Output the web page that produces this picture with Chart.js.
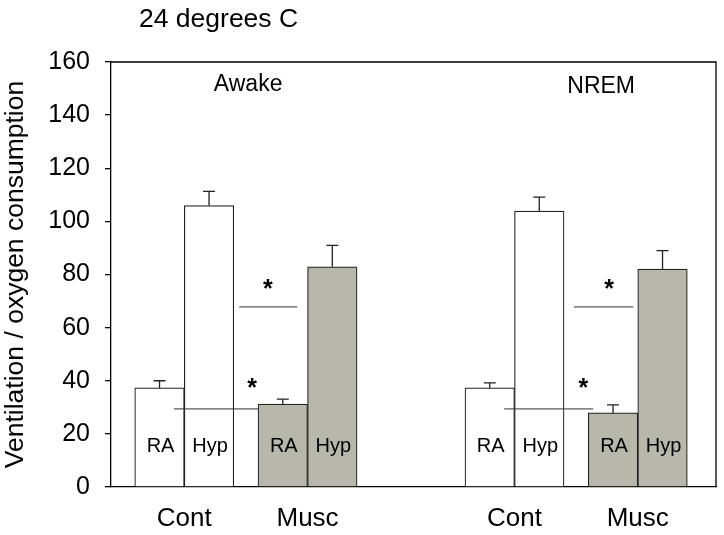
<!DOCTYPE html>
<html>
<head>
<meta charset="utf-8">
<script src="https://cdn.jsdelivr.net/npm/chart.js@4/dist/chart.umd.min.js"></script>
<style>
  html, body { margin: 0; padding: 0; background: #fff; }
  #wrap { width: 724px; height: 535px; }
</style>
</head>
<body>
<div id="wrap"><canvas id="mycanvas" width="724" height="535"></canvas></div>
<script>
var chartTitle = '24 degrees C';
var yTitle = 'Ventilation / oxygen consumption';
var states = ['Awake', 'NREM'];
var treatments = ['Cont', 'Musc'];
var gases = ['RA', 'Hyp'];
// order: Awake Cont, Awake Musc, NREM Cont, NREM Musc
var raMean = [37.3, 31.2, 37.3, 27.9];
var raSem = [2.7, 1.9, 1.9, 3.0];
var hypMean = [105.9, 82.9, 103.9, 82.0];
var hypSem = [5.4, 8.1, 5.2, 7.0];
var yTicks = [0, 20, 40, 60, 80, 100, 120, 140, 160];

var FONT = '"Liberation Sans", Arial, Helvetica, sans-serif';
var fills = ['#ffffff', '#b7b7ab'];

// layout on the x axis, in bar widths
var firstPair = 1.48, treatStep = 2.49, stateStep = 6.67, xMax = 12.22;
function pairX(i) {
  return firstPair + Math.floor(i / 2) * stateStep + (i % 2) * treatStep;
}

function makeSet(label, means, offset) {
  return {
    label: label,
    data: means.map(function (v, i) { return { x: pairX(i) + offset, y: v }; }),
    backgroundColor: means.map(function (v, i) { return fills[i % 2]; }),
    borderColor: '#222',
    borderWidth: 1.2,
    grouped: false,
    barPercentage: 1,
    categoryPercentage: 1
  };
}

var sems = [raSem, hypSem];

var annot = {
  id: 'annot',
  afterDatasetsDraw: function (chart) {
    var c = chart.ctx, ys = chart.scales.y, xs = chart.scales.x, a = chart.chartArea;
    c.save();
    // frame top and right
    c.strokeStyle = '#000';
    c.lineWidth = 1.3;
    c.beginPath();
    c.moveTo(a.left, a.top); c.lineTo(a.right, a.top); c.lineTo(a.right, a.bottom);
    c.stroke();

    // error bars and in-bar labels
    chart.data.datasets.forEach(function (ds, d) {
      var meta = chart.getDatasetMeta(d);
      meta.data.forEach(function (el, i) {
        var top = ys.getPixelForValue(ds.data[i].y + sems[d][i]);
        c.strokeStyle = '#222';
        c.lineWidth = 1.3;
        c.beginPath();
        c.moveTo(el.x, el.y); c.lineTo(el.x, top);
        c.moveTo(el.x - 6, top); c.lineTo(el.x + 6, top);
        c.stroke();
        c.fillStyle = '#000';
        c.font = '20px ' + FONT;
        c.textAlign = 'center';
        c.textBaseline = 'alphabetic';
        c.fillText(gases[d], el.x + 1, ys.bottom - 35);
      });
    });

    // state labels
    var stateOffset = [1.29, 1.75];
    c.font = '23px ' + FONT;
    c.textAlign = 'center';
    states.forEach(function (s, g) {
      c.fillText(s, xs.getPixelForValue(pairX(g * 2) + stateOffset[g]), 91 + g * 2);
    });

    // significance marks
    var sig = [
      { upper: [1.11, 2.28], upStar: 1.69, lower: [-0.21, 1.49], lowStar: 1.37 },
      { upper: [1.20, 2.40], upStar: 1.91, lower: [-0.21, 1.59], lowStar: 1.39 }
    ];
    sig.forEach(function (s, g) {
      var base = pairX(g * 2);
      c.strokeStyle = '#333';
      c.lineWidth = 1;
      c.beginPath();
      var yu = ys.getPixelForValue(67.8), yl = ys.getPixelForValue(29.4);
      c.moveTo(xs.getPixelForValue(base + s.upper[0]), yu);
      c.lineTo(xs.getPixelForValue(base + s.upper[1]), yu);
      c.moveTo(xs.getPixelForValue(base + s.lower[0]), yl);
      c.lineTo(xs.getPixelForValue(base + s.lower[1]), yl);
      c.stroke();
      c.font = 'bold 25px ' + FONT;
      c.textBaseline = 'middle';
      c.fillText('*', xs.getPixelForValue(base + s.upStar), ys.getPixelForValue(75.7) + 4);
      c.fillText('*', xs.getPixelForValue(base + s.lowStar), ys.getPixelForValue(38.2) + 4);
    });

    // title
    c.font = '26.5px ' + FONT;
    c.textAlign = 'left';
    c.textBaseline = 'alphabetic';
    c.fillText(chartTitle, 139, 27);
    c.restore();
  }
};

var ctx = document.getElementById('mycanvas');
var barGraph = new Chart(ctx, {
  type: 'bar',
  data: { datasets: [makeSet(gases[0], raMean, -0.5), makeSet(gases[1], hypMean, 0.5)] },
  options: {
    responsive: false,
    animation: false,
    layout: { padding: { top: 62, right: 8, left: 0, bottom: 0 } },
    plugins: { legend: { display: false }, tooltip: { enabled: false } },
    scales: {
      x: {
        type: 'linear',
        min: 0,
        max: xMax,
        offset: false,
        grid: { display: false, drawTicks: false },
        border: { display: true, color: '#000', width: 1.3 },
        afterBuildTicks: function (s) {
          s.ticks = [0, 1, 2, 3].map(function (i) { return { value: pairX(i) }; });
        },
        ticks: {
          color: '#000',
          font: { family: FONT, size: 26 },
          padding: 16,
          maxRotation: 0,
          autoSkip: false,
          callback: function (v, idx) { return treatments[idx % 2]; }
        },
        afterFit: function (s) { s.height = 48; }
      },
      y: {
        min: 0,
        max: 160,
        afterBuildTicks: function (s) {
          s.ticks = yTicks.map(function (v) { return { value: v }; });
        },
        grid: { drawOnChartArea: false, drawTicks: true, tickLength: 6, color: '#000', lineWidth: 1.3 },
        border: { display: true, color: '#000', width: 1.3 },
        ticks: { color: '#000', font: { family: FONT, size: 25 }, padding: 15 },
        title: {
          display: true,
          text: yTitle,
          color: '#000',
          font: { family: FONT, size: 26.5 },
          padding: { top: 0, bottom: 0 }
        },
        afterFit: function (s) { s.width = 111; }
      }
    }
  },
  plugins: [annot]
});
</script>
</body>
</html>
